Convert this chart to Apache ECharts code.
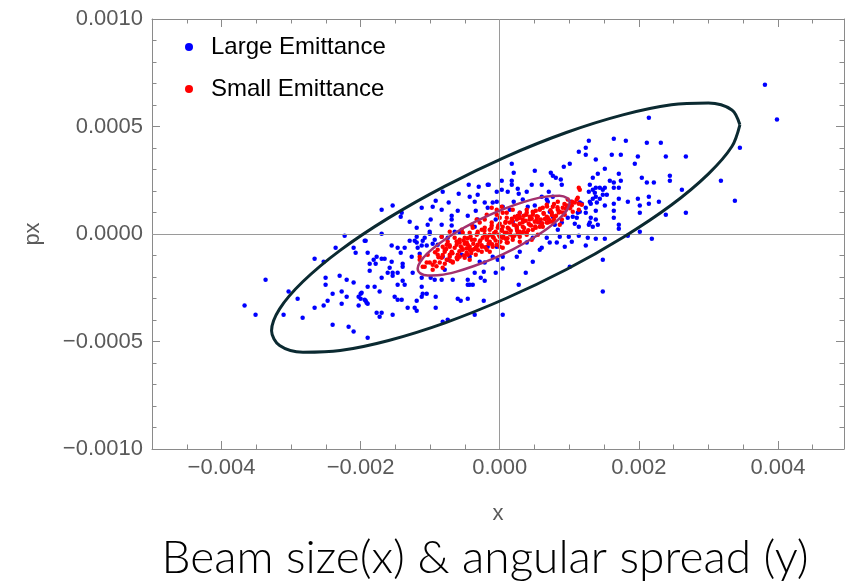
<!DOCTYPE html>
<html><head><meta charset="utf-8">
<script src="https://cdn.jsdelivr.net/npm/echarts@6/dist/echarts.min.js"></script>
<style>html,body{margin:0;padding:0;background:#fff}#chart{width:848px;height:585px}</style>
</head><body><div id="chart"></div>
<script>
const seriesNames = ['Large Emittance', 'Small Emittance'];
const xTicks = [-0.004, -0.002, 0, 0.002, 0.004];
const yTicks = [-0.001, -0.0005, 0, 0.0005, 0.001];
const xMinorTicks = [-0.0045, -0.0035, -0.003, -0.0025, -0.0015, -0.001, -0.0005, 0.0005, 0.001, 0.0015, 0.0025, 0.003, 0.0035, 0.0045];
const yMinorTicks = [-0.0009, -0.0008, -0.0007, -0.0006, -0.0004, -0.0003, -0.0002, -0.0001, 0.0001, 0.0002, 0.0003, 0.0004, 0.0006, 0.0007, 0.0008, 0.0009];
const titleText = 'Beam size(x) & angular spread (y)';

const largeEmittance = [
[-0.002230,-0.000008],[-0.002360,-0.000064],[-0.002101,-0.000064],[-0.001928,-0.000031],[-0.002072,-0.000087],[-0.001899,-0.000087],[-0.002662,-0.000115],[-0.002532,-0.000129],[-0.001870,-0.000138],[-0.001870,-0.000171],
[-0.003367,-0.000213],[-0.002504,-0.000203],[-0.002302,-0.000194],[-0.002201,-0.000213],[-0.002101,-0.000226],[-0.002504,-0.000236],[-0.001899,-0.000245],[-0.003036,-0.000268],[-0.002403,-0.000278],[-0.002273,-0.000268],
[-0.002201,-0.000292],[-0.002029,-0.000292],[-0.002000,-0.000278],[-0.002000,-0.000301],[-0.002906,-0.000301],[-0.002475,-0.000310],[-0.002273,-0.000324],[-0.001928,-0.000310],[-0.001899,-0.000324],[-0.002029,-0.000333],
[-0.002532,-0.000333],[-0.003669,-0.000333],[-0.002662,-0.000343],[-0.003511,-0.000375],[-0.003108,-0.000375],[-0.002834,-0.000389],[-0.002403,-0.000422],[-0.002173,-0.000431],[-0.002101,-0.000454],[-0.001899,-0.000482],
[-0.001698,0.000001],[-0.001942,-0.000031],[-0.001295,-0.000031],[-0.001223,-0.000031],[-0.001194,-0.000040],[-0.001122,-0.000054],[-0.001108,-0.000031],[-0.001007,0.000001],[-0.000835,-0.000013],[-0.000964,-0.000045],
[-0.001050,-0.000054],[-0.001554,-0.000054],[-0.001468,-0.000064],[-0.001367,-0.000064],[-0.001424,-0.000087],[-0.001266,-0.000106],[-0.001151,-0.000092],[-0.001770,-0.000106],[-0.001813,-0.000120],[-0.001698,-0.000115],
[-0.001655,-0.000115],[-0.001784,-0.000138],[-0.001554,-0.000129],[-0.001396,-0.000138],[-0.001396,-0.000152],[-0.001583,-0.000157],[-0.001611,-0.000180],[-0.001540,-0.000180],[-0.001468,-0.000180],[-0.001540,-0.000194],
[-0.001252,-0.000180],[-0.001698,-0.000203],[-0.001396,-0.000217],[-0.001122,-0.000203],[-0.000993,-0.000203],[-0.000835,-0.000213],[-0.000676,-0.000213],[-0.000935,-0.000213],[-0.000460,-0.000213],[-0.000460,-0.000236],
[-0.000273,-0.000203],[-0.000216,-0.000217],[-0.000058,-0.000180],[0.000043,-0.000161],[-0.001468,-0.000236],[-0.001367,-0.000236],[-0.001122,-0.000245],[-0.000388,-0.000236],[-0.001799,-0.000245],[-0.001727,-0.000268],
[-0.001986,-0.000273],[-0.001511,-0.000292],[-0.001468,-0.000306],[-0.001410,-0.000306],[-0.001108,-0.000278],[-0.001050,-0.000278],[-0.001122,-0.000292],[-0.000921,-0.000292],[-0.001942,-0.000306],[-0.001914,-0.000320],
[-0.001194,-0.000310],[-0.000604,-0.000301],[-0.000460,-0.000301],[-0.000230,-0.000310],[-0.001324,-0.000343],[-0.001223,-0.000343],[-0.001194,-0.000357],[-0.000921,-0.000343],[-0.001770,-0.000366],[-0.001698,-0.000366],
[-0.001727,-0.000385],[-0.001540,-0.000375],[-0.000820,-0.000408],[-0.000748,-0.000399],[-0.000360,-0.000375],[0.000043,-0.000375],
[0.000173,0.000327],[0.000201,0.000285],[0.000504,0.000294],[0.000734,0.000285],[0.000763,0.000271],[0.000806,0.000262],[0.000878,0.000253],[0.000921,0.000313],[0.001007,0.000327],[0.001137,0.000383],
[0.000029,0.000248],[0.000173,0.000248],[-0.000158,0.000229],[-0.000302,0.000220],[-0.000446,0.000229],[-0.000820,0.000197],[-0.000590,0.000187],[-0.000432,0.000173],[0.000029,0.000206],[0.000115,0.000197],
[0.000259,0.000211],[0.000273,0.000187],[0.000388,0.000197],[0.000460,0.000229],[0.000604,0.000173],[0.000705,0.000197],[0.000763,0.000173],[0.000691,0.000150],[-0.001698,0.000113],[-0.001540,0.000132],
[-0.001410,0.000099],[-0.001122,0.000122],[-0.000964,0.000127],[-0.000921,0.000155],[-0.000734,0.000146],[-0.000835,0.000113],[-0.000604,0.000108],[-0.000360,0.000150],[-0.000345,0.000108],[-0.000173,0.000122],
[-0.000043,0.000150],[0.000043,0.000127],[0.000201,0.000150],[0.000403,0.000127],[0.000504,0.000132],[-0.001295,0.000057],[-0.000993,0.000067],[-0.000691,0.000085],[-0.000460,0.000085],[-0.000691,0.000039],
[-0.000835,0.000043],[-0.001036,0.000043],[-0.001194,0.000029],[-0.001194,-0.000013],[-0.000317,0.000067],[-0.000058,0.000067],[-0.000360,0.000034],[0.001050,0.000080],[0.001122,0.000099],[0.001079,0.000048],
[0.000892,0.000053],[0.000791,0.000043],[0.000863,-0.000013],[0.000993,-0.000013],[0.000820,-0.000040],[0.000719,-0.000040],[0.000935,-0.000059],[0.000604,-0.000064],[0.000475,-0.000129],[0.000245,-0.000106],
[0.000043,-0.000106],[-0.000101,-0.000106],[-0.000216,-0.000133],[0.000374,-0.000180],[0.000273,-0.000236],[-0.000561,-0.000310],[-0.000230,-0.000175],[-0.000432,-0.000236],
[0.002144,0.000541],[0.001640,0.000443],[0.001813,0.000434],[0.001281,0.000434],[0.001237,0.000401],[0.001237,0.000369],[0.001611,0.000369],[0.001741,0.000369],[0.002115,0.000425],[0.002316,0.000425],
[0.001986,0.000360],[0.002388,0.000360],[0.002676,0.000360],[0.001942,0.000327],[0.001381,0.000346],[0.001511,0.000304],[0.001410,0.000280],[0.001338,0.000262],[0.001712,0.000280],[0.002043,0.000262],
[0.001583,0.000248],[0.001741,0.000248],[0.001640,0.000239],[0.002446,0.000271],[0.002446,0.000248],[0.002115,0.000239],[0.002216,0.000239],[0.001381,0.000215],[0.001439,0.000215],[0.001511,0.000215],
[0.001640,0.000215],[0.001712,0.000215],[0.001338,0.000206],[0.001482,0.000206],[0.001281,0.000197],[0.001482,0.000183],[0.001540,0.000183],[0.001381,0.000173],[0.001439,0.000164],[0.001338,0.000164],
[0.001712,0.000164],[0.002144,0.000173],[0.002619,0.000206],[0.001842,0.000150],[0.001986,0.000164],[0.001640,0.000141],[0.001309,0.000141],[0.001180,0.000141],[0.001511,0.000132],[0.002014,0.000132],
[0.002144,0.000141],[0.002288,0.000150],[0.002014,0.000099],[0.001640,0.000108],[0.001381,0.000108],[0.001237,0.000122],[0.001237,0.000099],[0.001309,0.000076],[0.001381,0.000067],[0.001108,0.000076],
[0.001640,0.000076],[0.001281,0.000043],[0.001410,0.000043],[0.001338,0.000034],[0.001712,0.000043],[0.001712,0.000025],[0.001137,0.000034],[0.002388,0.000090],[0.002676,0.000099],[0.002014,0.000011],
[0.001842,-0.000008],[0.001137,-0.000008],[0.001381,-0.000022],[0.001511,-0.000022],[0.002187,-0.000022],[0.001237,-0.000054],[0.001482,-0.000120],[0.001482,-0.000268],[0.001007,-0.000152],[0.003813,0.000694],
[0.003986,0.000532],[0.003453,0.000401],[0.003180,0.000248],[0.003381,0.000155],[0.001022,0.000150],[-0.001424,0.000080],
[-0.000173,0.000229],[-0.000317,0.000183],[-0.000043,0.000197],[-0.000216,0.000146],[-0.000101,0.000146],[-0.000691,0.000067],[-0.000648,0.000011],[-0.000576,0.000006],[-0.001007,0.000011],[-0.000748,-0.000017],
[-0.001079,-0.000017],[-0.000935,-0.000027],[-0.001180,-0.000064],[-0.000892,-0.000050],[-0.000820,-0.000106],[-0.000748,-0.000120],[-0.000547,-0.000096],[-0.000432,-0.000106],[-0.000288,-0.000129],[-0.000360,-0.000180],
[-0.000791,-0.000166],[-0.000173,-0.000059],[-0.000043,-0.000059],[-0.000029,-0.000120],
[0.000173,0.000229],[0.000604,0.000229],[0.000892,0.000229],[0.001295,0.000229],[0.001367,0.000192],[0.000331,0.000160],[0.000676,0.000160],[0.001295,0.000150],[0.001151,0.000146],[0.001396,0.000146],
[0.000144,0.000113],[0.000288,0.000099],[0.000719,0.000104],[0.000763,0.000080],[0.001151,0.000104],[0.000978,0.000076],[0.001295,0.000053],[0.000187,0.000057],[0.000576,0.000053],[0.000835,0.000020],
[0.000676,-0.000017],[0.000475,-0.000017],[0.000388,-0.000040],[0.000576,-0.000073],[0.000288,-0.000082],[0.001036,-0.000036],[0.001266,-0.000017]
];

const smallEmittance = [
[-0.000043,0.000090],[0,0.000076],[-0.000216,0.000067],[-0.000288,0.000053],[-0.000115,0.000053],[-0.000388,0.000029],[-0.000259,0.000020],[-0.000144,0.000020],[-0.000029,0.000029],[-0.000432,0.000006],
[-0.000331,-0.000003],[-0.000216,-0.000003],[-0.000101,-0.000013],[0,-0.000013],[-0.000504,-0.000017],[-0.000403,-0.000027],[-0.000288,-0.000036],[-0.000144,-0.000036],[-0.000576,-0.000040],[-0.000460,-0.000050],
[-0.000331,-0.000059],[-0.000648,-0.000064],[-0.000532,-0.000073],[-0.000691,-0.000082],[-0.000604,-0.000096],[-0.000791,-0.000082],[-0.000719,-0.000106],[-0.000835,-0.000110],[-0.000935,-0.000129],[-0.001007,-0.000133],
[-0.000863,-0.000133],[-0.001079,-0.000152],[-0.000964,-0.000166],[-0.000676,-0.000129],[-0.001151,-0.000120],[-0.000403,0.000043],[-0.000547,0.000020],[-0.000648,-0.000017],[-0.000763,-0.000050],[-0.000892,-0.000073],
[-0.000460,-0.000096],[-0.000259,-0.000082],[-0.000144,-0.000082],[-0.000043,-0.000050],[-0.001036,-0.000096],[-0.000719,0.000011],
[0.001151,0.000206],[0.001122,0.000169],[0.001180,0.000136],[0.000835,0.000150],[0.000763,0.000127],[0.000619,0.000122],[0.000475,0.000104],[0.000288,0.000080],[0.000101,0.000076],[0.000144,0.000053],
[0.000331,0.000067],[0.000532,0.000067],[0.000676,0.000080],[0.000863,0.000104],[0.000935,0.000090],[0.000043,0.000034],[0.000245,0.000034],[0.000432,0.000043],[0.000619,0.000034],[0.000101,0.000006],
[0.000288,0.000011],[0.000475,0.000020],[0.000043,-0.000017],[0.000187,-0.000013],[0.000388,-0.000003],[0.000115,-0.000040],[0.000460,-0.000027],[0.000288,-0.000036],[0.000043,-0.000064],[0.000547,-0.000003],
[0.000719,0.000057],[0.000978,0.000160],[0.001050,0.000104],[0.000863,0.000043],[0.000043,0.000099],[0.000187,0.000113],[0.000388,0.000099],[0.000432,0.000080],[0.000245,0.000067],
[0.001137,0.000215],[0.001108,0.000160],[0.001137,0.000113],[-0.001151,-0.000106],[-0.001050,-0.000133],[-0.000892,-0.000096],[-0.000820,-0.000059],[-0.000835,-0.000013],[-0.000748,-0.000036],[-0.000691,-0.000087],
[-0.000619,-0.000110],[-0.000576,-0.000027],[-0.000532,0.000006],[-0.000475,-0.000040],[-0.000331,0.000067],[-0.000187,0.000090],[-0.000115,0.000122],[-0.000043,0.000113],[0.000029,0.000127],[0.000101,0.000099],
[0.000216,0.000080],[0.000288,0.000099],[0.000388,0.000113],[0.000475,0.000090],[0.000576,0.000113],[0.000676,0.000136],[0.000892,0.000067],[0.000763,0.000057],[0.000676,0.000053],[0.000576,0.000034],
[0.000388,0.000006],[0.000288,-0.000013],[0.000187,-0.000027],[0.000101,-0.000040],[0,-0.000059],[-0.000101,-0.000059],[-0.000187,-0.000073],[-0.000388,-0.000073],[-0.000475,-0.000087],[-0.000576,-0.000106],
[-0.000676,-0.000133],[-0.000763,-0.000120],[-0.000964,-0.000143],[-0.001108,-0.000152],[-0.000820,-0.000157],[-0.000719,-0.000096],[0.001036,0.000132],[0.001137,0.000141],
[-0.000791,-0.000073],[-0.000719,-0.000059],[-0.000619,-0.000050],[-0.000547,-0.000064],[-0.000504,-0.000045],[-0.000432,-0.000059],[-0.000360,-0.000027],[-0.000317,-0.000050],[-0.000245,-0.000017],[-0.000187,-0.000027],
[-0.000144,-0.000003],[-0.000086,-0.000017],[-0.000058,0.000011],[-0.000014,-0.000003],[0.000029,0.000020],[0.000072,0.000006],[0.000115,0.000029],[0.000158,0.000015],[0.000201,0.000043],[0.000245,0.000025],
[0.000288,0.000048],[0.000331,0.000034],[0.000374,0.000062],[0.000417,0.000048],[0.000460,0.000071],[0.000504,0.000057],[0.000547,0.000080],[0.000590,0.000067],[0.000633,0.000094],[0.000691,0.000076],
[0.000748,0.000099],[0.000791,0.000080],[0.000835,0.000113],[0.000906,0.000122],[0.000964,0.000132],[0.001022,0.000136],[0.001079,0.000146],[-0.000317,0.000011],[-0.000216,0.000029],[-0.000115,0.000039],
[0,0.000048],[0.000086,0.000057],[0.000173,0.000071],[0.000259,0.000085],[0.000345,0.000085],[0.000518,0.000108],[0,-0.000036],[0.000086,-0.000022],[0.000259,0.000001],[0.000345,0.000011],
[0.000518,0.000029],[0.000604,0.000043],[0.000691,0.000053],[0.000777,0.000067],[-0.000432,-0.000073],[-0.000345,-0.000064],[-0.000259,-0.000059],[-0.000504,-0.000110],[-0.000432,-0.000120],[-0.000345,-0.000096],
[-0.00091,-0.000150],[-0.00088,-0.000108],[-0.00093,-0.000085],[-0.00079,-0.000138],[-0.00082,-0.000098],[-0.00077,-0.000070],[-0.00071,-0.000125],[-0.00068,-0.000090],[-0.00072,-0.000052],
[-0.00061,-0.000118],[-0.00058,-0.000080],[-0.00062,-0.000035],[-0.00056,-0.000058],[-0.00051,-0.000100],[-0.00048,-0.000068],[-0.00052,-0.000030],[-0.00046,-0.000020],
[-0.00041,-0.000088],[-0.00038,-0.000045],[-0.00042,-0.000012],[-0.00036,-0.000070],[-0.00031,-0.000075],[-0.00028,-0.000030],[-0.00032,0.000002],[-0.00026,-0.000052],
[-0.00021,-0.000062],[-0.00018,-0.000015],[-0.00022,0.000015],[-0.00016,-0.000045],[-0.00011,-0.000048],[-0.00008,0.000005],[-0.00012,0.000028],[-0.00006,-0.000030],
[0.00001,-0.000035],[0.00003,0.000015],[-0.00002,0.000040],[0.00005,-0.000010],[0.00011,-0.000020],[0.00013,0.000025],[0.00008,0.000052],[0.00015,-0.000002],
[0.00021,-0.000008],[0.00023,0.000040],[0.00018,0.000062],[0.00025,0.000015],[0.00031,0.000005],[0.00033,0.000055],[0.00028,0.000075],[0.00035,0.000028],
[0.00041,0.000018],[0.00043,0.000068],[0.00038,0.000090],[0.00045,0.000040],[0.00051,0.000035],[0.00053,0.000082],[0.00048,0.000100],[0.00055,0.000055],
[0.00061,0.000050],[0.00063,0.000098],[0.00058,0.000118],[0.00065,0.000070],[0.00071,0.000065],[0.00073,0.000110],[0.00068,0.000128],[0.00075,0.000088],
[0.00081,0.000085],[0.00083,0.000125],[0.00078,0.000140],[0.00085,0.000100],[0.00091,0.000100],[0.00093,0.000140],[0.00095,0.000118],[0.00101,0.000120],[0.00104,0.000150]
];

const largeEllipse = [
[0.003453,0.000508],[0.003338,0.000407],[0.003001,0.000280],[0.002468,0.000135],[0.001770,-0.000016],[0.000958,-0.000165],
[0.000086,-0.000300],[-0.000786,-0.000413],[-0.001597,-0.000495],[-0.002295,-0.000542],[-0.002829,-0.000550],[-0.003165,-0.000519],
[-0.003281,-0.000450],[-0.003165,-0.000348],[-0.002829,-0.000221],[-0.002295,-0.000076],[-0.001597,0.000075],[-0.000786,0.000223],
[0.000086,0.000359],[0.000958,0.000472],[0.001770,0.000554],[0.002468,0.000601],[0.003001,0.000609],[0.003338,0.000577],
[0.003453,0.000508]
];

const smallEllipse = [
[0.001007,0.000146],[0.000970,0.000113],[0.000860,0.000073],[0.000686,0.000026],[0.000460,-0.000022],[0.000197,-0.000070],
[-0.000086,-0.000113],[-0.000370,-0.000149],[-0.000633,-0.000176],[-0.000859,-0.000191],[-0.001033,-0.000193],[-0.001142,-0.000183],
[-0.001180,-0.000161],[-0.001142,-0.000129],[-0.001033,-0.000088],[-0.000859,-0.000042],[-0.000633,0.000007],[-0.000370,0.000054],
[-0.000086,0.000097],[0.000197,0.000133],[0.000460,0.000160],[0.000686,0.000175],[0.000860,0.000178],[0.000970,0.000167],
[0.001007,0.000146]
];

function fmt(d) {
  return function (v) {
    const s = Math.abs(v).toFixed(d);
    return (v < -1e-12 ? '\u2212' : '') + s;
  };
}
const frameColor = '#8a8a8a';
const labelStyle = { color: '#5a5a5a', fontSize: 22, fontFamily: 'Liberation Sans, Arial, sans-serif' };
const XR = { min: -0.005, max: 0.00495 };
const YR = { min: -0.001, max: 0.001 };

function xAx(position, major, labels) {
  return {
    type: 'value', position: position, min: XR.min, max: XR.max,
    axisLine: { show: major, onZero: false, lineStyle: { color: frameColor, width: 1 } },
    axisTick: { show: true, inside: true, length: major ? 8 : 4.5, customValues: major ? xTicks : xMinorTicks, lineStyle: { color: frameColor } },
    axisLabel: labels ? Object.assign({ show: true, customValues: xTicks, formatter: fmt(3), margin: 8 }, labelStyle) : { show: false },
    splitLine: { show: false },
    name: labels ? 'x' : '', nameLocation: 'middle', nameGap: 54,
    nameTextStyle: { color: '#5a5a5a', fontSize: 22, fontFamily: 'Liberation Sans, Arial, sans-serif' }
  };
}
function yAx(position, major, labels) {
  return {
    type: 'value', position: position, min: YR.min, max: YR.max,
    axisLine: { show: major, onZero: false, lineStyle: { color: frameColor, width: 1 } },
    axisTick: { show: true, inside: true, length: major ? 8 : 4.5, customValues: major ? yTicks : yMinorTicks, lineStyle: { color: frameColor } },
    axisLabel: labels ? Object.assign({ show: true, customValues: yTicks, formatter: fmt(4), margin: 9 }, labelStyle) : { show: false },
    splitLine: { show: false },
    name: labels ? 'px' : '', nameLocation: 'middle', nameGap: 108, nameRotate: 90,
    nameTextStyle: { color: '#5a5a5a', fontSize: 22, fontFamily: 'Liberation Sans, Arial, sans-serif' }
  };
}

const chart = echarts.init(document.getElementById('chart'), null, { renderer: 'canvas' });
chart.setOption({
  animation: false,
  backgroundColor: '#fff',
  grid: { left: 152, right: 4, top: 19, bottom: 136, containLabel: false },
  xAxis: [xAx('bottom', true, true), xAx('bottom', false, false), xAx('top', true, false), xAx('top', false, false)],
  yAxis: [yAx('left', true, true), yAx('left', false, false), yAx('right', true, false), yAx('right', false, false)],
  legend: {
    data: seriesNames, orient: 'vertical', left: 180, top: 30, itemWidth: 34, itemHeight: 8, itemGap: 18,
    icon: 'circle', selectedMode: false,
    textStyle: { fontSize: 24, lineHeight: 24, color: '#000', fontFamily: 'Liberation Sans, Arial, sans-serif' }
  },
  graphic: [{
    type: 'text', x: 485, y: 558,
    style: { text: titleText, textAlign: 'center', textVerticalAlign: 'middle', fill: '#000', font: '300 46px Lato, "Open Sans", sans-serif' }
  }],
  series: [
    { name: seriesNames[0], type: 'scatter', data: largeEmittance, symbolSize: 4.5, itemStyle: { color: '#0000ff', opacity: 1 }, z: 2, silent: true },
    { name: seriesNames[1], type: 'scatter', data: smallEmittance, symbolSize: 4.5, itemStyle: { color: '#ff0000', opacity: 1 }, z: 3, silent: true },
    { name: 'zero', type: 'scatter', data: [], z: 4, silent: true,
      markLine: { silent: true, symbol: ['none', 'none'], label: { show: false },
        lineStyle: { color: '#9a9a9a', width: 1, type: 'solid' },
        data: [{ xAxis: 0 }, { yAxis: 0 }] } },
    { name: 'largeEllipse', type: 'line', data: largeEllipse, smooth: 0.33, showSymbol: false, z: 5, silent: true,
      lineStyle: { color: '#0b2a31', width: 3 } },
    { name: 'smallEllipse', type: 'line', data: smallEllipse, smooth: 0.33, showSymbol: false, z: 6, silent: true,
      lineStyle: { color: '#a3316e', width: 2.5 } }
  ]
});
</script>
</body></html>
